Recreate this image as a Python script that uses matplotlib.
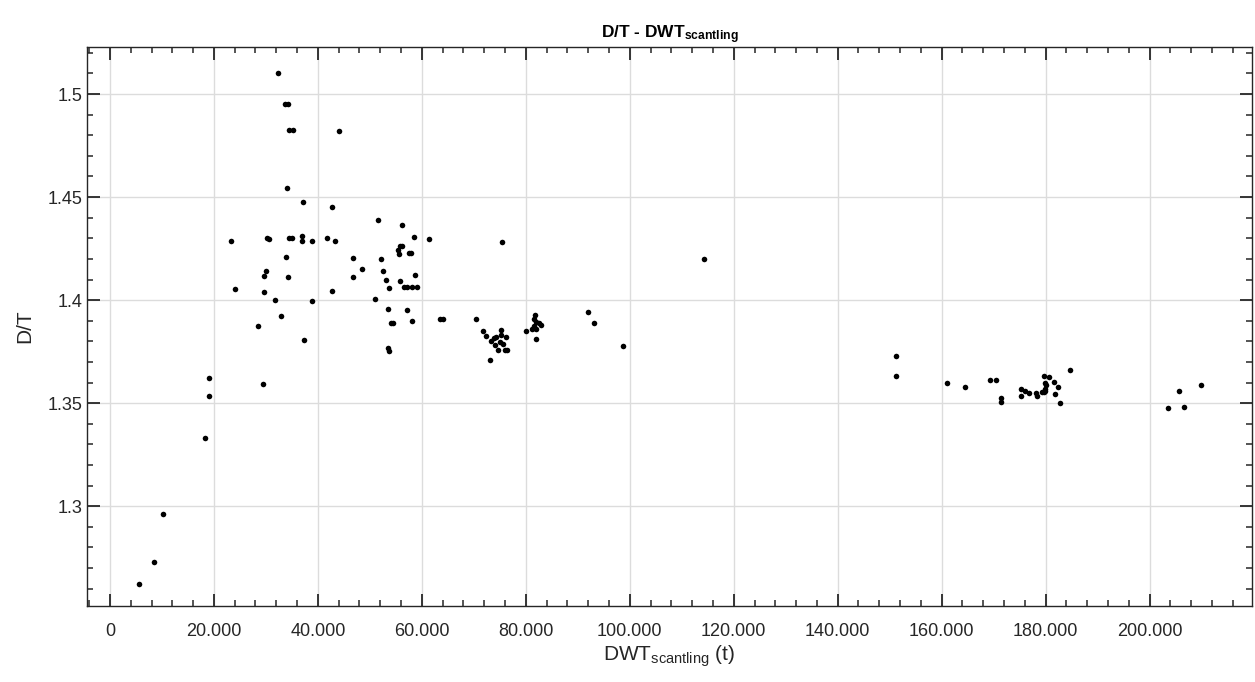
import matplotlib
matplotlib.use('Agg')
import matplotlib.pyplot as plt
from matplotlib.ticker import MultipleLocator, FuncFormatter

# DWT scantling (t)
dwt = [5640, 8400, 10130, 18330, 18980, 18980, 23270, 24040, 28400, 29420,
       29620, 29670, 30060, 30190, 30580, 31670, 32370, 32880, 33700, 34300,
       33780, 34040, 34230, 34360, 35000, 34480, 35190, 36920, 36920, 37050,
       37370, 38910, 38910, 41730, 42630, 42750, 43210, 43980, 46670, 46730,
       48460, 51020, 51600, 52120, 52500, 53020, 53400, 53530, 53650, 53590,
       53980, 54420, 55510, 55640, 55770, 56150, 55770, 56090, 56600, 57120,
       57120, 57500, 57830, 58080, 58140, 58520, 58720, 58980, 61470, 63400,
       64040, 70330, 71670, 72250, 73080, 73400, 73900, 74360, 74100, 74740,
       75320, 75260, 75060, 75640, 76150, 76030, 76470, 75510, 80000, 81730,
       81670, 82050, 82500, 82880, 81280, 82050, 81600, 81990, 92060, 93210,
       98790, 114230, 151220, 151220, 161080, 164490, 169360, 170510, 171470, 171470,
       175190, 175320, 175960, 176730, 178130, 178270, 179360, 179620, 179810, 179940,
       180060, 179870, 179680, 180710, 181600, 182310, 181730, 182830, 184680, 203600,
       205710, 206540, 209940]
# D/T ratio
dt = [1.2625, 1.2730, 1.2961, 1.3332, 1.3621, 1.3537, 1.4285, 1.4052, 1.3876, 1.3594,
      1.4041, 1.4117, 1.4141, 1.4300, 1.4298, 1.3999, 1.5102, 1.3921, 1.4950, 1.4950,
      1.4209, 1.4546, 1.4110, 1.4304, 1.4304, 1.4824, 1.4824, 1.4313, 1.4288, 1.4476,
      1.3805, 1.4285, 1.3997, 1.4304, 1.4044, 1.4450, 1.4285, 1.4822, 1.4204, 1.4110,
      1.4150, 1.4007, 1.4390, 1.4198, 1.4141, 1.4099, 1.3955, 1.3770, 1.3752, 1.4060,
      1.3887, 1.3887, 1.4241, 1.4222, 1.4264, 1.4264, 1.4092, 1.4364, 1.4062, 1.4062,
      1.3953, 1.4230, 1.4230, 1.3898, 1.4062, 1.4308, 1.4121, 1.4062, 1.4296, 1.3908,
      1.3908, 1.3908, 1.3848, 1.3827, 1.3712, 1.3803, 1.3817, 1.3820, 1.3783, 1.3756,
      1.3854, 1.3833, 1.3798, 1.3786, 1.3822, 1.3756, 1.3759, 1.4282, 1.3848, 1.3929,
      1.3911, 1.3893, 1.3888, 1.3881, 1.3859, 1.3861, 1.3877, 1.3811, 1.3944, 1.3890,
      1.3777, 1.4198, 1.3727, 1.3634, 1.3599, 1.3578, 1.3612, 1.3614, 1.3523, 1.3505,
      1.3536, 1.3567, 1.3557, 1.3550, 1.3549, 1.3536, 1.3552, 1.3553, 1.3558, 1.3570,
      1.3586, 1.3597, 1.3634, 1.3625, 1.3605, 1.3580, 1.3544, 1.3502, 1.3660, 1.3476,
      1.3560, 1.3483, 1.3586]

plt.rcParams['font.family'] = ['Liberation Sans', 'DejaVu Sans']
plt.rcParams['mathtext.fontset'] = 'custom'
plt.rcParams['mathtext.rm'] = 'Liberation Sans'
plt.rcParams['mathtext.it'] = 'Liberation Sans'
plt.rcParams['mathtext.bf'] = 'Liberation Sans:bold'

fig = plt.figure(figsize=(12.55, 6.82), dpi=100)
ax = fig.add_axes([0.0693, 0.1114, 0.9283, 0.8196])

ax.scatter(dwt, dt, s=16, color='black', zorder=3, linewidths=0)

ax.set_xlim(-4420, 219700)
ax.set_ylim(1.2516, 1.5228)
ax.xaxis.set_major_locator(MultipleLocator(20000))
ax.xaxis.set_minor_locator(MultipleLocator(4000))
ax.yaxis.set_major_locator(MultipleLocator(0.05))
ax.yaxis.set_minor_locator(MultipleLocator(0.01))
ax.xaxis.set_major_formatter(FuncFormatter(lambda v, p: f'{int(round(v)):,}'.replace(',', '.')))
ax.yaxis.set_major_formatter(FuncFormatter(lambda v, p: f'{v:g}'))

ax.grid(True, which='major', color='#dcdcdc', linewidth=1.0, zorder=0)
ax.set_axisbelow(True)
ax.tick_params(which='both', direction='in', top=True, right=True, colors='#262626',
               labelsize=13, labelcolor='#262626')
ax.tick_params(which='major', length=9, width=1.3)
ax.tick_params(which='minor', length=4.5, width=1.1)
ax.tick_params(axis='x', pad=12)
for s in ax.spines.values():
    s.set_color('#262626')
    s.set_linewidth(1.0)

ax.set_xlabel(r'DWT$_{\mathrm{scantling}}$ (t)', fontsize=15, color='#262626', labelpad=3)
ax.set_ylabel('D/T', fontsize=15, color='#262626', labelpad=9)
ax.set_title(r'D/T - DWT$_{\mathbf{scantling}}$', fontsize=12.5, fontweight='bold', pad=6)

fig.savefig('out.png', dpi=100)
